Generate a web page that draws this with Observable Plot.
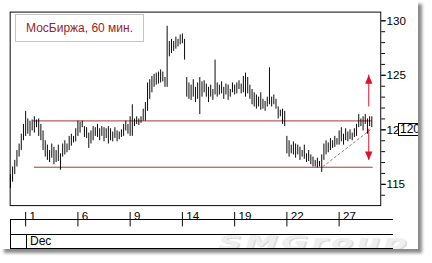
<!DOCTYPE html>
<html><head><meta charset="utf-8">
<script src="https://cdn.jsdelivr.net/npm/d3@7"></script>
<script src="https://cdn.jsdelivr.net/npm/@observablehq/plot@0.6"></script>
<style>
html,body{margin:0;padding:0;background:#fff;width:432px;height:263px;overflow:hidden;font-family:"Liberation Sans",Arial,sans-serif;}
#panel{position:absolute;left:0;top:0;width:418px;height:249px;background:#fff;box-shadow:4px 4px 3px #8a8a8a;overflow:hidden;}
#chart{position:absolute;left:0;top:0;}
.hl{position:absolute;height:1px;background:#000;}
.vl{position:absolute;width:1px;background:#000;}
#title{position:absolute;left:15px;top:14px;width:129px;height:28px;box-sizing:border-box;border:1px solid #c4c4c4;background:#fff;color:#9b2226;font-size:12px;line-height:26px;padding-left:10px;white-space:nowrap;}
#mark{position:absolute;left:218px;top:231px;font:italic bold 19px "DejaVu Sans",sans-serif;color:#efefef;text-shadow:1px 1px 0 #dcdcdc;transform:scale(1.72,1);transform-origin:left top;letter-spacing:2px;white-space:nowrap;}
#dec{position:absolute;left:30px;top:235px;font-size:12px;line-height:13px;}
#last{position:absolute;left:398px;width:24px;height:13px;box-sizing:border-box;border:1px solid #000;background:#fff;font-size:12px;line-height:11px;padding-left:1px;}
</style></head><body>
<div id="panel">
  <div id="mark">SMGroup</div>
  <div id="chart"></div>
  <div class="hl" style="left:10px;top:219px;width:383px"></div>
  <div class="hl" style="left:10px;top:234px;width:383px"></div>
  <div class="hl" style="left:10px;top:248px;width:383px"></div>
  <div class="vl" style="left:10px;top:219px;height:30px"></div>
  <div class="vl" style="left:26px;top:234px;height:15px"></div>
  <div id="dec">Dec</div>
  <div id="title">МосБиржа, 60 мин.</div>
</div>
<script>
// hourly bars, MOEX, December (8 bars per trading day); first bar index
const firstBar = -7;
const barsPerDay = 8;
const lows = [
114.6,115.2,115.9,116.6,117.5,118.1,119.0,
119.4,119.6,119.4,119.9,119.7,120.2,119.4,119.0,118.1,117.5,117.2,117.0,117.4,116.8,117.0,117.1,
116.3,117.5,117.7,117.9,118.1,118.5,118.8,118.9,119.4,119.7,120.2,119.3,119.2,118.3,118.7,119.0,
119.4,119.3,119.0,119.4,118.9,119.2,118.7,119.0,118.9,119.2,118.9,119.1,119.3,119.4,119.9,119.6,
119.4,119.4,120.3,120.5,120.4,120.6,120.8,120.8,121.7,122.8,123.4,123.9,124.1,124.2,124.3,124.4,
123.9,123.9,126.7,127.0,127.2,127.4,127.6,127.8,127.9,126.4,123.0,122.8,122.7,123.0,122.5,122.8,
121.4,123.0,123.4,123.0,122.5,123.0,122.7,123.2,123.0,123.2,123.3,122.8,123.2,122.7,123.0,123.4,
123.2,123.3,123.7,123.3,123.4,123.0,123.3,122.8,122.3,122.1,121.9,122.1,121.8,121.9,121.7,122.1,
122.3,122.1,122.3,121.9,121.0,121.2,120.5,120.3,117.8,117.5,117.8,117.7,117.4,117.7,117.2,117.5,
117.3,117.0,117.1,116.8,116.6,116.6,116.5,116.6,116.1,117.2,117.7,117.9,118.1,118.3,118.4,118.6,
118.6,118.9,118.6,119.0,118.9,119.1,119.0,119.3,119.4,120.2,120.3,119.9,120.5,119.6,120.3,120.2];
const highs = [
115.9,116.6,117.2,118.1,118.7,119.6,120.5,
121.7,121.0,120.8,120.9,121.2,120.9,121.0,120.5,119.9,119.0,118.6,118.1,118.7,118.4,118.1,118.6,
117.8,118.7,119.0,118.7,119.4,119.6,119.4,120.1,120.8,120.7,120.8,120.3,120.2,119.7,119.9,120.3,
120.2,120.5,120.1,120.3,120.2,120.1,120.3,120.1,119.8,120.2,119.9,119.8,120.0,120.5,120.8,120.5,
121.2,122.3,121.0,121.2,121.0,121.2,121.9,122.5,124.3,124.6,124.9,125.1,125.2,125.3,125.5,125.3,
124.8,129.5,128.1,128.3,128.1,128.5,128.3,128.7,128.8,128.3,124.8,124.3,124.1,124.6,123.9,124.3,
124.8,124.4,124.5,124.2,123.9,124.1,123.7,126.4,124.3,124.1,124.4,123.9,124.2,124.1,123.7,124.3,
124.1,124.3,124.5,124.2,124.9,125.2,124.8,124.1,123.7,123.4,123.2,123.0,123.4,122.8,122.6,123.0,
125.7,123.0,123.2,122.8,122.1,121.8,121.9,121.7,119.4,119.0,118.6,118.9,118.7,118.6,118.4,118.1,
118.6,117.8,118.1,117.7,117.5,117.2,117.4,117.1,117.7,118.7,119.0,118.8,119.2,119.0,119.4,119.2,
119.9,120.2,119.6,120.1,119.8,120.0,119.7,120.1,120.5,121.4,121.0,121.2,121.4,121.0,121.2,121.2];

// x-axis day labels (trading-day number of each label, 0 = Dec 1)
const dayLabels = ["1","6","9","14","19","22","27"];
const labelTradingDay = [0,3,6,9,12,15,18];

// y-axis ticks
const majorTicks = [115,120,125,130];
const minorTicks = [114,115,116,117,118,119,120,121,122,123,124,125,126,127,128,129,130];

// annotations
const resistance = {y: 120.82, x1: 3.6, x2: 159.1};
const support = {y: 116.57, x1: 4.0, x2: 159.6};
const trend = {x1: 136.4, y1: 116.6, x2: 158.7, y2: 120.06};
const arrowX = 157.6;
const upArrow = {from: 122.1, to: 125.03};
const downArrow = {from: 120.06, to: 117.22};
const lastPrice = 120.33;

const bars = lows.map((l, k) => ({i: firstBar + k, low: l, high: highs[k]}));
const labelBars = labelTradingDay.map(d => d * barsPerDay);

const headUp = {draw(ctx) { ctx.moveTo(0, 0); ctx.lineTo(3.8, 9); ctx.lineTo(-3.8, 9); ctx.closePath(); }};
const headDown = {draw(ctx) { ctx.moveTo(0, 0); ctx.lineTo(3.8, -9); ctx.lineTo(-3.8, -9); ctx.closePath(); }};
const red = "#e0102a";
const lineRed = "#a33030";

const plot = Plot.plot({
  width: 432, height: 263,
  marginLeft: 10, marginRight: 39, marginTop: 12, marginBottom: 51,
  x: {domain: [-7.11, 163.11], axis: null},
  y: {domain: [113.05, 130.8], axis: null},
  style: {fontFamily: "'Liberation Sans', Arial, sans-serif", fontSize: "12px", background: "transparent", color: "#000", overflow: "visible"},
  marks: [
    Plot.ruleY([resistance], {y: "y", x1: "x1", x2: "x2", stroke: lineRed, strokeWidth: 1}),
    Plot.ruleY([support], {y: "y", x1: "x1", x2: "x2", stroke: lineRed, strokeWidth: 1}),
    Plot.link([trend], {x1: "x1", y1: "y1", x2: "x2", y2: "y2", stroke: "#9a7070", strokeDasharray: "3,2", strokeWidth: 1}),
    Plot.ruleX(bars, {x: "i", y1: "low", y2: "high", stroke: "#000", strokeWidth: 1}),
    Plot.ruleX([upArrow], {x: () => arrowX, y1: "from", y2: "to", stroke: red, strokeWidth: 1}),
    Plot.ruleX([downArrow], {x: () => arrowX, y1: "from", y2: "to", stroke: red, strokeWidth: 1}),
    Plot.dot([upArrow], {x: () => arrowX, y: "to", symbol: headUp, fill: red, stroke: "none"}),
    Plot.dot([downArrow], {x: () => arrowX, y: "to", symbol: headDown, fill: red, stroke: "none"}),
    Plot.frame({stroke: "#000"}),
    Plot.axisY({anchor: "right", ticks: minorTicks, tickSize: 4, tickFormat: () => ""}),
    Plot.axisY({anchor: "right", ticks: majorTicks, tickSize: 5, tickPadding: 1, tickFormat: d => String(d)}),
    Plot.axisX({anchor: "bottom", ticks: labelBars, tickSize: 15, dy: 7, tickFormat: () => ""}),
    Plot.text(labelBars, {x: d => d, text: (d, k) => dayLabels[k], frameAnchor: "bottom", dy: 15, dx: 4, textAnchor: "start", fill: "#000"})
  ]
});
document.getElementById("chart").appendChild(plot);

const yScale = plot.scale("y");
const box = document.createElement("div");
box.id = "last";
box.textContent = String(Math.round(lastPrice));
box.style.top = (yScale.apply(lastPrice) - 6.5) + "px";
document.getElementById("panel").appendChild(box);
</script>
</body></html>
